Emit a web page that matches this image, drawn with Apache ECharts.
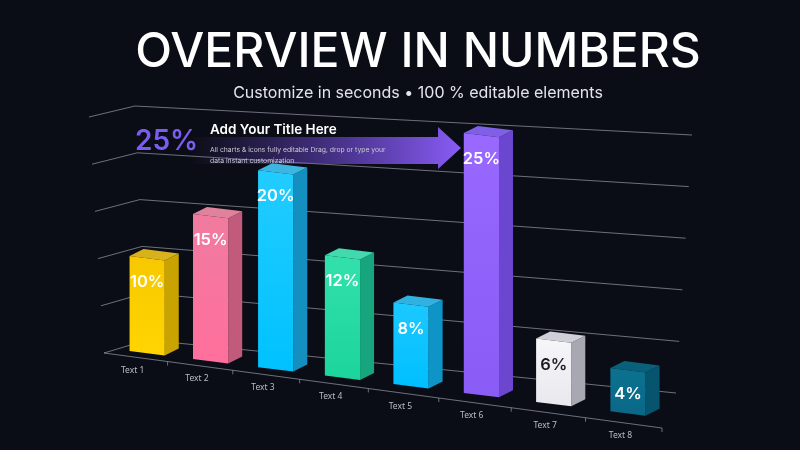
<!DOCTYPE html>
<html>
<head>
<meta charset="utf-8">
<script src="https://cdn.jsdelivr.net/npm/echarts@6/dist/echarts.min.js"></script>
<style>
html,body{margin:0;padding:0;background:#0b0d16;}
#main{width:800px;height:450px;}
</style>
</head>
<body>
<div id="main"></div>
<script>
// data
var categories = ['Text 1','Text 2','Text 3','Text 4','Text 5','Text 6','Text 7','Text 8'];
var values = [10, 15, 20, 12, 8, 25, 6, 4];
var yTicks = [0, 5, 10, 15, 20, 25];

// look of each box: front gradient, side, top, label colour
var barStyles = [
	{front:['#f7c800','#ffd500'], side:'#c9a300', top:'#d8b21c', label:'#ffffff'},
	{front:['#f07ba0','#ff6f9c'], side:'#c25a7b', top:'#e1829c', label:'#ffffff'},
	{front:['#22ccff','#00c2ff'], side:'#1490c0', top:'#3cb6e0', label:'#ffffff'},
	{front:['#33e0ab','#1bd59c'], side:'#16a57c', top:'#42d9ae', label:'#ffffff'},
	{front:['#1cc8ff','#00bfff'], side:'#0e94c6', top:'#30b1df', label:'#ffffff'},
	{front:['#9868ff','#8a5cf6'], side:'#6b46cf', top:'#7f5fe6', label:'#ffffff'},
	{front:['#f6f6f9','#e8e8ee'], side:'#a8a8b2', top:'#cfcfd7', label:'#1b1c24'},
	{front:['#0c7190','#0a6887'], side:'#06546e', top:'#0a5f7b', label:'#ffffff'}
];

// perspective frame: front plane and back wall corners (s0t0, s1t0, s0t1, s1t1)
var frontQuad = [[104,353],[662,428],[89,117],[676,150]];
var backQuad = [[147,340],[676,393],[135,106],[692,135]];
var barDepth = 0.28;
var barHalf = 0.032;
var boxDepth = [14, -7];
var lineColor = 'rgba(190,192,205,0.55)';

function bil(q, s, t){
	return [
		(1-s)*(1-t)*q[0][0] + s*(1-t)*q[1][0] + (1-s)*t*q[2][0] + s*t*q[3][0],
		(1-s)*(1-t)*q[0][1] + s*(1-t)*q[1][1] + (1-s)*t*q[2][1] + s*t*q[3][1]
	];
}
function proj(s, t, d){
	var f = bil(frontQuad, s, t), b = bil(backQuad, s, t);
	return [f[0] + (b[0]-f[0])*d, f[1] + (b[1]-f[1])*d];
}
function warpU(u){
	var k = 0.9;
	return k*u / (1 + (k-1)*u);
}
function toU(params, px){
	var cs = params.coordSys;
	return (px - cs.x) / cs.width;
}
function toT(params, py){
	var cs = params.coordSys;
	return (cs.y + cs.height - py) / cs.height;
}
function add(p, v){ return [p[0]+v[0], p[1]+v[1]]; }

// back wall + left wall gridlines, one per value tick
function renderGrid(params, api){
	var t = toT(params, api.coord([0, api.value(1)])[1]);
	return {
		type:'polyline',
		shape:{points:[proj(0,t,0), proj(0,t,1), proj(1,t,1)]},
		style:{stroke:lineColor, lineWidth:1, fill:null},
		silent:true
	};
}

// front floor edge, ticks and category labels
function renderAxis(params, api){
	var i = api.value(0);
	var c = api.coord([i, 0]);
	var bw = api.size([1, 0])[0];
	var sc = warpU(toU(params, c[0]));
	var sr = warpU(toU(params, c[0] + bw/2));
	var sl = warpU(toU(params, c[0] - bw/2));
	var a = proj(sl, 0, 0), b = proj(sr, 0, 0), m = proj(sc, 0, 0);
	return {
		type:'group',
		silent:true,
		children:[
			{type:'line', shape:{x1:a[0], y1:a[1], x2:b[0], y2:b[1]}, style:{stroke:lineColor, lineWidth:1}},
			{type:'line', shape:{x1:b[0], y1:b[1], x2:b[0], y2:b[1]+4}, style:{stroke:lineColor, lineWidth:1}},
			{type:'text', style:{text:categories[i], x:m[0]-3, y:m[1]+13, align:'center', verticalAlign:'middle',
				fill:'#b9bcc8', font:'400 8.5px "Noto Sans", sans-serif'}}
		]
	};
}

// upright 3D boxes standing on the floor
function renderBar(params, api){
	var i = api.value(0);
	var base = api.coord([i, 0]);
	var top = api.coord([i, api.value(1)]);
	var sc = warpU(toU(params, base[0]));
	var t = toT(params, top[1]);
	var st = barStyles[i];
	var full = proj(sc, 0, barDepth)[1] - proj(sc, 1, barDepth)[1];
	var h = t * full;
	var bl = proj(sc-barHalf, 0, barDepth), br = proj(sc+barHalf, 0, barDepth);
	var tl = [bl[0], bl[1]-h], tr = [br[0], br[1]-h];
	var tc = [(tl[0]+tr[0])/2, (tl[1]+tr[1])/2];
	return {
		type:'group',
		children:[
			{type:'polygon', shape:{points:[br, tr, add(tr,boxDepth), add(br,boxDepth)]},
				style:{fill:st.side}},
			{type:'polygon', shape:{points:[tl, tr, add(tr,boxDepth), add(tl,boxDepth)]},
				style:{fill:st.top}},
			{type:'polygon', shape:{points:[bl, br, tr, tl]},
				style:{fill:new echarts.graphic.LinearGradient(0,0,0,1,[
					{offset:0, color:st.front[0]}, {offset:1, color:st.front[1]}])}},
			{type:'text', style:{text:api.value(1)+'%', x:tc[0], y:tc[1]+24, align:'center', verticalAlign:'middle',
				fill:st.label, font:'600 16.5px Inter, sans-serif'}}
		]
	};
}

var chart = echarts.init(document.getElementById('main'));
var option = {
	backgroundColor:'#0b0d16',
	animation:false,
	grid:{left:100, right:100, top:100, bottom:100},
	xAxis:{type:'category', data:categories, show:false},
	yAxis:{type:'value', min:0, max:25, interval:5, show:false},
	graphic:[
		{type:'text', x:418, y:53, z:10, style:{text:'OVERVIEW IN NUMBERS', align:'center', verticalAlign:'middle',
			fill:'#ffffff', font:'500 48px Inter, sans-serif'}},
		{type:'text', x:418, y:93, z:10, style:{text:'Customize in seconds \u2022 100 % editable elements', align:'center', verticalAlign:'middle',
			fill:'#e4e5ec', font:'400 16px Inter, sans-serif'}},
		{type:'polygon', z:5, shape:{points:[[190,137],[438,137],[438,127],[461,148],[438,169],[438,164],[190,164]]},
			style:{fill:new echarts.graphic.LinearGradient(0,0,1,0,[
				{offset:0, color:'rgba(120,80,230,0)'},
				{offset:0.45, color:'rgba(120,80,230,0.45)'},
				{offset:1, color:'rgba(137,92,246,1)'}])}},
		{type:'text', x:135, y:142, z:10, style:{text:'25%', align:'left', verticalAlign:'middle',
			fill:'#7b5cf2', font:'600 28px Inter, sans-serif'}},
		{type:'text', x:210, y:130, z:10, style:{text:'Add Your Title Here', align:'left', verticalAlign:'middle',
			fill:'#ffffff', font:'600 13.5px Inter, sans-serif'}},
		{type:'text', x:210, y:150, z:10, style:{text:'All charts & icons fully editable Drag, drop or type your', align:'left', verticalAlign:'middle',
			fill:'#c9cad3', font:'400 6.8px Inter, sans-serif'}},
		{type:'text', x:210, y:161, z:10, style:{text:'data instant customization', align:'left', verticalAlign:'middle',
			fill:'#c9cad3', font:'400 6.8px Inter, sans-serif'}}
	],
	series:[
		{
			type:'custom',
			renderItem:renderGrid,
			data:yTicks.map(function(v){ return [0, v]; }),
			z:1
		},
		{
			type:'custom',
			renderItem:renderAxis,
			data:categories.map(function(c, i){ return [i, 0]; }),
			z:1
		},
		{
			type:'custom',
			renderItem:renderBar,
			data:values.map(function(v, i){ return [i, v]; }),
			z:3
		}
	]
};
chart.setOption(option);
</script>
</body>
</html>
